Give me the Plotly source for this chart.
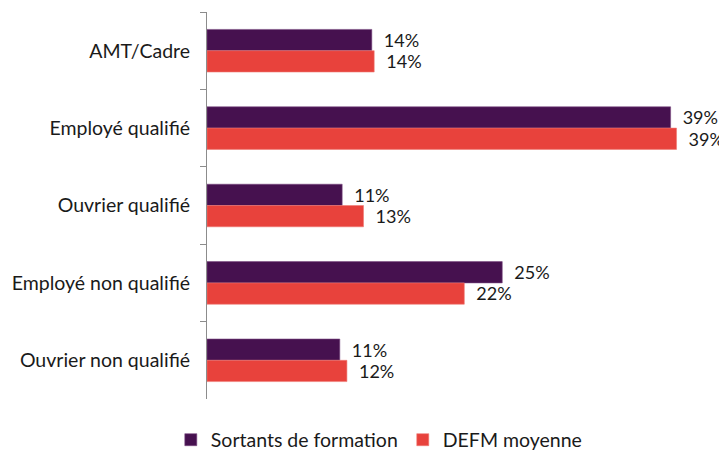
import plotly.graph_objects as go

# categories, top to bottom
categories = ["AMT/Cadre", "Employé qualifié", "Ouvrier qualifié",
              "Employé non qualifié", "Ouvrier non qualifié"]

# shares (%); labels are the rounded values shown
sortants = [13.9, 39.1, 11.4, 24.9, 11.2]
defm = [14.1, 39.6, 13.2, 21.7, 11.8]
sortants_labels = ["14%", "39%", "11%", "25%", "11%"]
defm_labels = ["14%", "39%", "13%", "22%", "12%"]

PURPLE = "#46114F"
RED = "#E8423C"
FONT = "Lato"
FS = 19.5

fig = go.Figure()
fig.add_trace(go.Bar(
    y=categories, x=sortants, orientation="h", name="Sortants de formation",
    marker=dict(color=PURPLE, line=dict(color="#7A4A82", width=0.6)),
    text=["\u2002" + t for t in sortants_labels], textposition="outside",
    textfont=dict(family=FONT, size=FS, color="#1a1a1a"), cliponaxis=False,
))
fig.add_trace(go.Bar(
    y=categories, x=defm, orientation="h", name="DEFM moyenne",
    marker=dict(color=RED, line=dict(color="#F07A74", width=0.6)),
    text=["\u2002" + t for t in defm_labels], textposition="outside",
    textfont=dict(family=FONT, size=FS, color="#1a1a1a"), cliponaxis=False,
))

# page body has an 8px margin, so the figure is 8px smaller than the window
fig.update_layout(
    width=719, height=444,
    margin=dict(l=199, r=22, t=4, b=53, autoexpand=False),
    paper_bgcolor="white", plot_bgcolor="white",
    barmode="group", bargap=0.45, bargroupgap=0,
    font=dict(family=FONT, size=FS, color="#1a1a1a"),
    showlegend=True,
    legend=dict(orientation="h", x=0.346, xanchor="center", y=-0.106, yanchor="middle",
                font=dict(family=FONT, size=FS, color="#1a1a1a"),
                itemwidth=30, traceorder="normal"),
    xaxis=dict(range=[0, 42], visible=False),
    yaxis=dict(autorange="reversed", showline=True, linecolor="#8c8c8c", linewidth=1,
               ticks="outside", tickson="boundaries", ticklen=6, tickcolor="#8c8c8c",
               ticklabelstandoff=12, showgrid=False, zeroline=False, automargin=False,
               tickfont=dict(family=FONT, size=FS, color="#1a1a1a")),
)

fig.write_html("out.html")
